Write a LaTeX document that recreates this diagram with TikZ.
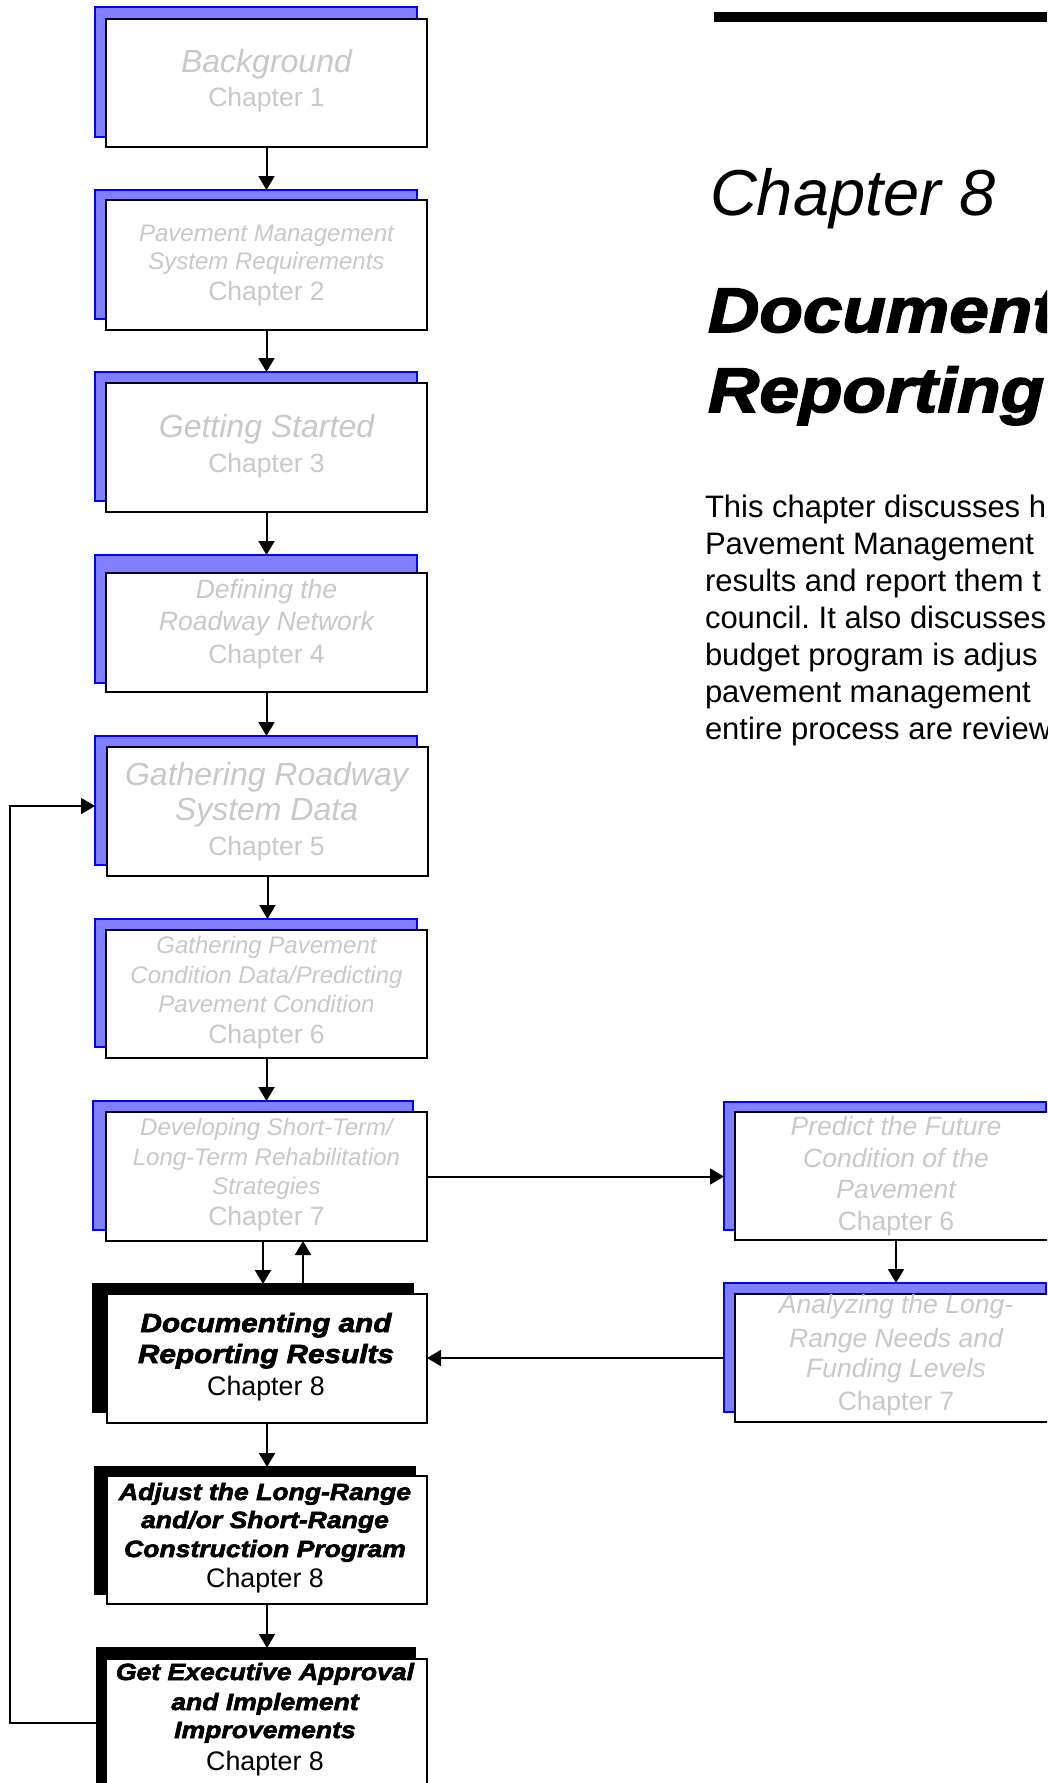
\documentclass[tikz,border=0pt]{standalone}
\usepackage{fontspec}
\setmainfont{Liberation Sans}
\newfontfamily\heavyfont[FakeBold=2.6,FakeStretch=1.13]{Liberation Sans}
\usetikzlibrary{arrows.meta}
\frenchspacing
\definecolor{boxgray}{RGB}{200,200,200}
\definecolor{bluefill}{RGB}{128,128,255}
\definecolor{blueedge}{RGB}{0,0,255}
\tikzset{
  sh/.style={anchor=north west, inner sep=0pt, outer sep=0pt, line width=2pt},
  blueshadow/.style={sh, draw=blueedge, fill=bluefill},
  blackshadow/.style={sh, draw=black, fill=black},
  wbox/.style={sh, draw=black, fill=white, line width=2.4pt},
  wh/.style 2 args={minimum width=#1pt, minimum height=#2pt},
  ln/.style={anchor=base, inner sep=0pt, outer sep=0pt},
  lnw/.style={anchor=base west, inner sep=0pt, outer sep=0pt},
  gi32/.style={ln, text=boxgray, font=\fontsize{32}{38}\selectfont\itshape},
  gi26/.style={ln, text=boxgray, font=\fontsize{26.5}{32}\selectfont\itshape},
  gi24/.style={ln, text=boxgray, font=\fontsize{24}{29}\selectfont\itshape},
  gch/.style={ln, text=boxgray, font=\fontsize{26.5}{32}\selectfont},
  hv26/.style={ln, text=black, font=\fontsize{26.3}{31}\selectfont\heavyfont\bfseries\itshape},
  hv23/.style={ln, text=black, font=\fontsize{23.5}{28}\selectfont\heavyfont\bfseries\itshape},
  kch27/.style={ln, text=black, font=\fontsize{26.8}{32}\selectfont},
  titlelight/.style={lnw, text=black, font=\fontsize{65}{78}\selectfont\itshape},
  titleheavy/.style={lnw, text=black, font=\fontsize{63}{80}\selectfont\heavyfont\bfseries\itshape},
  body/.style={lnw, text=black, font=\fontsize{31}{37}\selectfont},
  arr/.style={line width=2pt, -{Triangle[width=16pt,length=14pt]}},
}
\begin{document}
\begin{tikzpicture}[x=1pt,y=-1pt]
\useasboundingbox (0,0) rectangle (1047,1783);
\clip (0,0) rectangle (1047,1783);
\fill[white] (0,0) rectangle (1047,1783);

% shadows
\node[blueshadow, wh={322}{130}] (s1) at (95,7) {};
\node[blueshadow, wh={322}{129}] (s2) at (95,190) {};
\node[blueshadow, wh={322}{129}] (s3) at (95,372) {};
\node[blueshadow, wh={322}{128}] (s4) at (95,555) {};
\node[blueshadow, wh={322}{129}] (s5) at (95,736) {};
\node[blueshadow, wh={322}{128}] (s6) at (95,919) {};
\node[blueshadow, wh={320}{129}] (s7) at (93,1101) {};
\node[blackshadow, wh={320}{128}] (s8) at (93,1284) {};
\node[blackshadow, wh={320}{127}] (s9) at (95,1467) {};
\node[blackshadow, wh={318}{150}] (s10) at (97,1648) {};
\node[blueshadow, wh={322}{128}] (sr1) at (724,1102) {};
\node[blueshadow, wh={322}{129}] (sr2) at (724,1283) {};

% white boxes
\node[wbox, wh={321}{128}] (b1) at (106,19) {};
\node[wbox, wh={321}{130}] (b2) at (106,200) {};
\node[wbox, wh={321}{129}] (b3) at (106,383) {};
\node[wbox, wh={321}{119}] (b4) at (106,573) {};
\node[wbox, wh={321}{129}] (b5) at (107,747) {};
\node[wbox, wh={321}{128}] (b6) at (106,930) {};
\node[wbox, wh={321}{129}] (b7) at (106,1112) {};
\node[wbox, wh={320}{129}] (b8) at (107,1294) {};
\node[wbox, wh={320}{128}] (b9) at (107,1476) {};
\node[wbox, wh={321}{140}] (b10) at (106,1659) {};
\node[wbox, wh={322}{128}] (r1) at (735,1112) {};
\node[wbox, wh={322}{128}] (r2) at (735,1294) {};

% box texts
\node[gi32] (t1a) at (266.5,72) {Background};
\node[gch]  (t1b) at (266.5,106) {Chapter 1};
\node[gi24] (t2a) at (266.5,241) {Pavement Management};
\node[gi24] (t2b) at (266.5,269) {System Requirements};
\node[gch]  (t2c) at (266.5,300) {Chapter 2};
\node[gi32] (t3a) at (266.5,437) {Getting Started};
\node[gch]  (t3b) at (266.5,472) {Chapter 3};
\node[gi26] (t4a) at (266.5,598) {Defining the};
\node[gi26] (t4b) at (266.5,630) {Roadway Network};
\node[gch]  (t4c) at (266.5,663) {Chapter 4};
\node[gi32] (t5a) at (266.5,785) {Gathering Roadway};
\node[gi32] (t5b) at (266.5,820) {System Data};
\node[gch]  (t5c) at (266.5,855) {Chapter 5};
\node[gi24] (t6a) at (266.5,953) {Gathering Pavement};
\node[gi24] (t6b) at (266.5,983) {Condition Data/Predicting};
\node[gi24] (t6c) at (266.5,1012) {Pavement Condition};
\node[gch]  (t6d) at (266.5,1043) {Chapter 6};
\node[gi24] (t7a) at (266.5,1135) {Developing Short-Term/};
\node[gi24] (t7b) at (266.5,1165) {Long-Term Rehabilitation};
\node[gi24] (t7c) at (266.5,1194) {Strategies};
\node[gch]  (t7d) at (266.5,1225) {Chapter 7};
\node[hv26] (t8a) at (266,1332) {Documenting and};
\node[hv26] (t8b) at (266,1363) {Reporting Results};
\node[kch27] (t8c) at (266,1395) {Chapter 8};
\node[hv23] (t9a) at (265,1500) {Adjust the Long-Range};
\node[hv23] (t9b) at (265,1528) {and/or Short-Range};
\node[hv23] (t9c) at (265,1557) {Construction Program};
\node[kch27] (t9d) at (265,1587) {Chapter 8};
\node[hv23] (t10a) at (265,1680) {Get Executive Approval};
\node[hv23] (t10b) at (265,1710) {and Implement};
\node[hv23] (t10c) at (265,1738) {Improvements};
\node[kch27] (t10d) at (265,1770) {Chapter 8};
\node[gi26] (tr1a) at (896,1135) {Predict the Future};
\node[gi26] (tr1b) at (896,1167) {Condition of the};
\node[gi26] (tr1c) at (896,1198) {Pavement};
\node[gch]  (tr1d) at (896,1230) {Chapter 6};
\node[gi26] (tr2a) at (896,1313) {Analyzing the Long-};
\node[gi26] (tr2b) at (896,1347) {Range Needs and};
\node[gi26] (tr2c) at (896,1377) {Funding Levels};
\node[gch]  (tr2d) at (896,1410) {Chapter 7};

% connectors
\draw[arr] (b1.south) -- (b1.south |- s2.north);
\draw[arr] (b2.south) -- (b2.south |- s3.north);
\draw[arr] (b3.south) -- (b3.south |- s4.north);
\draw[arr] (b4.south) -- (b4.south |- s5.north);
\draw[arr] (b5.south) -- (b5.south |- s6.north);
\draw[arr] (b6.south) -- (b6.south |- s7.north);
\draw[arr] ([xshift=-3.5pt]b7.south) -- ([xshift=-3.5pt]b7.south |- s8.north);
\draw[arr] ([xshift=36.5pt]b7.south |- s8.north) -- ([xshift=36.5pt]b7.south);
\draw[arr] (b8.south) -- (b8.south |- s9.north);
\draw[arr] (b9.south) -- (b9.south |- s10.north);
\draw[arr] (b7.east) -- (b7.east -| sr1.west);
\draw[arr] (r1.south) -- (r1.south |- sr2.north);
\draw[arr] (r2.west -| sr2.west) -- (r2.west -| b8.east);
\coordinate (lp1) at (10,1722);
\coordinate (lp2) at (10,806);
\draw[arr, line width=1.8pt] (s10.west) -- (s10.west -| lp1) -- (lp2) -- (lp2 -| s5.west);

% right column text
\fill[black] (714,12) rectangle (1047,22);
\node[titlelight] (ch) at (710,215) {Chapter 8};
\node[titleheavy] (h1) at (708,332) {Document};
\node[titleheavy] (h2) at (708,412) {Reporting};
\node[body] (p1) at (705,517) {This chapter discusses h};
\node[body] (p2) at (705,554) {Pavement Management};
\node[body] (p3) at (705,591) {results and report them t};
\node[body] (p4) at (705,628) {council. It also discusses};
\node[body] (p5) at (705,665) {budget program is adjus};
\node[body] (p6) at (705,702) {pavement management};
\node[body] (p7) at (705,739) {entire process are review};
\end{tikzpicture}
\end{document}
